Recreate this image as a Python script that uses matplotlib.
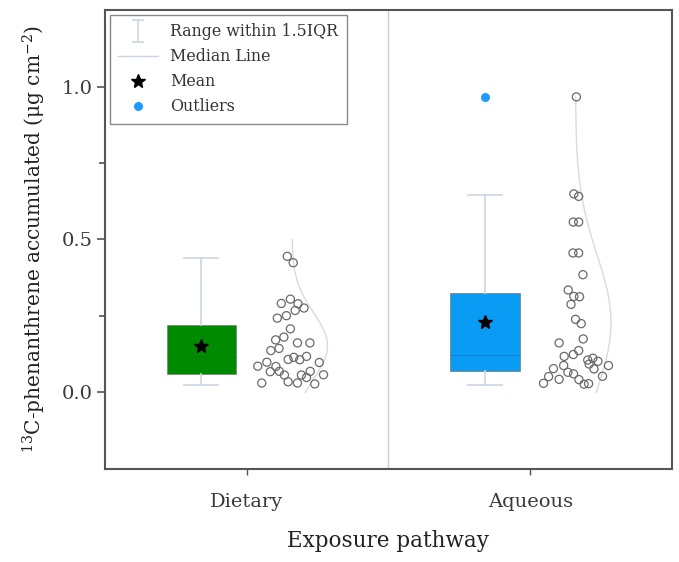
import numpy as np
import matplotlib
matplotlib.use('Agg')
from matplotlib import pyplot as plt
from matplotlib.path import Path
from matplotlib.lines import Line2D

plt.rcParams['font.family'] = ['DejaVu Serif']
plt.rcParams['mathtext.fontset'] = 'dejavuserif'

categories = ['Dietary', 'Aqueous']

dietary_vals = [0.445, 0.424, 0.291, 0.305, 0.290, 0.276, 0.268, 0.243, 0.251, 0.208,
                0.172, 0.181, 0.162, 0.162, 0.137, 0.144, 0.108, 0.115, 0.107, 0.118,
                0.098, 0.086, 0.099, 0.085, 0.068, 0.069, 0.057, 0.057, 0.069, 0.058,
                0.031, 0.035, 0.031, 0.049, 0.028]
dietary_jitter = [0.143, 0.164, 0.122, 0.154, 0.181, 0.202, 0.171, 0.108, 0.140, 0.154,
                  0.102, 0.131, 0.179, 0.223, 0.085, 0.114, 0.146, 0.166, 0.187, 0.211,
                  0.256, 0.039, 0.071, 0.103, 0.083, 0.115, 0.133, 0.193, 0.224, 0.271,
                  0.053, 0.146, 0.179, 0.211, 0.240]
aqueous_vals = [0.966, 0.649, 0.641, 0.557, 0.557, 0.456, 0.456, 0.385, 0.335, 0.314,
                0.313, 0.288, 0.239, 0.225, 0.175, 0.162, 0.137, 0.124, 0.118, 0.106,
                0.112, 0.102, 0.077, 0.088, 0.088, 0.078, 0.066, 0.061, 0.053, 0.052,
                0.043, 0.030, 0.042, 0.027, 0.029, 0.093]
aqueous_jitter = [0.163, 0.154, 0.171, 0.152, 0.171, 0.151, 0.171, 0.186, 0.134, 0.154,
                  0.174, 0.144, 0.160, 0.180, 0.187, 0.102, 0.171, 0.152, 0.120, 0.203,
                  0.221, 0.239, 0.225, 0.276, 0.118, 0.082, 0.133, 0.153, 0.255, 0.065,
                  0.102, 0.047, 0.172, 0.190, 0.206, 0.208]

# box statistics
q1 = [0.062, 0.069]
q3 = [0.222, 0.324]
whis_lo = [0.026, 0.026]
whis_hi = [0.441, 0.647]
outliers = [[], [0.966]]
curve_lo = [0.0, 0.0]
curve_hi = [0.50, 0.966]

all_vals = [dietary_vals, aqueous_vals]
all_jitter = [dietary_jitter, aqueous_jitter]
box_colors = ['#008A00', '#0A9BF5']
median_colors = ['#038503', '#0B85D8']

fig = plt.figure(figsize=(6.79, 5.62), dpi=100)
ax = fig.add_axes([0.1546, 0.1655, 0.835, 0.8167])

stats = []
for i, cat in enumerate(categories):
    v = np.array(all_vals[i])
    stats.append(dict(med=np.median(v), q1=q1[i], q3=q3[i], whislo=whis_lo[i],
                      whishi=whis_hi[i], mean=np.mean(v), fliers=outliers[i], label=cat))

whisk_c = '#CBD5E3'
bp = ax.bxp(stats, positions=[1 - 0.16, 2 - 0.16], widths=0.245, capwidths=0.12,
            patch_artist=True, showmeans=True, manage_ticks=False,
            whiskerprops=dict(color=whisk_c, lw=1.2),
            capprops=dict(color=whisk_c, lw=1.2),
            meanprops=dict(marker='*', markerfacecolor='black', markeredgecolor='black', markersize=10),
            flierprops=dict(marker='o', markerfacecolor='#1E9BFF', markeredgecolor='none', markersize=6.5))
for i, b in enumerate(bp['boxes']):
    b.set_facecolor(box_colors[i])
    b.set_edgecolor('#7A8A7A')
    b.set_linewidth(0.6)
    bp['medians'][i].set_color(median_colors[i])
    bp['medians'][i].set_linewidth(0.8)

# jittered points and normal distribution curve
for i in range(2):
    v = np.array(all_vals[i])
    ax.scatter(i + 1 + np.array(all_jitter[i]), v, s=34, facecolors='none',
               edgecolors='#6A6A6A', linewidths=0.9, zorder=3)
    m, s = v.mean(), v.std()
    yy = np.linspace(curve_lo[i], curve_hi[i], 200)
    dens = np.exp(-0.5 * ((yy - m) / s) ** 2)
    ax.plot(i + 1 + 0.16 + 0.125 * dens, yy, color='#DADADA', lw=1, zorder=2)

ax.axvline(1.5, color='#CCCCCC', lw=1)

ax.set_xlim(0.5, 2.5)
ax.set_ylim(-0.25, 1.25)
ax.set_xticks([1, 2])
ax.set_xticklabels(categories, fontsize=14, color='#3A3A3A')
ax.set_yticks([0.0, 0.5, 1.0])
ax.set_yticks([0.25, 0.75], minor=True)
ax.set_yticklabels(['0.0', '0.5', '1.0'], fontsize=14, color='#3A3A3A')
ax.tick_params(axis='y', which='major', length=6, width=1.2, color='#555555', direction='out', pad=3)
ax.tick_params(axis='y', which='minor', length=4, width=1.2, color='#555555', direction='out')
ax.tick_params(axis='x', length=4, width=1, color='#555555', direction='out', pad=13)
for sp in ax.spines.values():
    sp.set_color('#555555')
    sp.set_linewidth(1.5)

ax.set_xlabel('Exposure pathway', fontsize=15.5, color='#222222', labelpad=14)
ax.set_ylabel('$^{13}$C-phenanthrene accumulated (μg cm$^{-2}$)', fontsize=14.5,
              color='#222222', labelpad=10)

ibar = Path([(-0.5, 1), (0.5, 1), (0, 1), (0, -1), (-0.5, -1), (0.5, -1)],
            [Path.MOVETO, Path.LINETO, Path.MOVETO, Path.LINETO, Path.MOVETO, Path.LINETO])
handles = [
    Line2D([], [], marker=ibar, linestyle='none', markeredgecolor=whisk_c, markersize=16, markeredgewidth=1.2),
    Line2D([], [], color='#CBD5E3', lw=1),
    Line2D([], [], marker='*', linestyle='none', color='black', markersize=10),
    Line2D([], [], marker='o', linestyle='none', markerfacecolor='#1E9BFF', markeredgecolor='none', markersize=6.5),
]
labels = ['Range within 1.5IQR', 'Median Line', 'Mean', 'Outliers']
leg = ax.legend(handles, labels, loc='upper left', fontsize=11.4, frameon=True, fancybox=False,
                edgecolor='#888888', framealpha=1, borderaxespad=0.3, handlelength=2.5,
                labelspacing=0.5, borderpad=0.55, handletextpad=0.75)
leg.get_frame().set_linewidth(1)
for t in leg.get_texts():
    t.set_color('#333333')

fig.savefig('out.png', dpi=100)
